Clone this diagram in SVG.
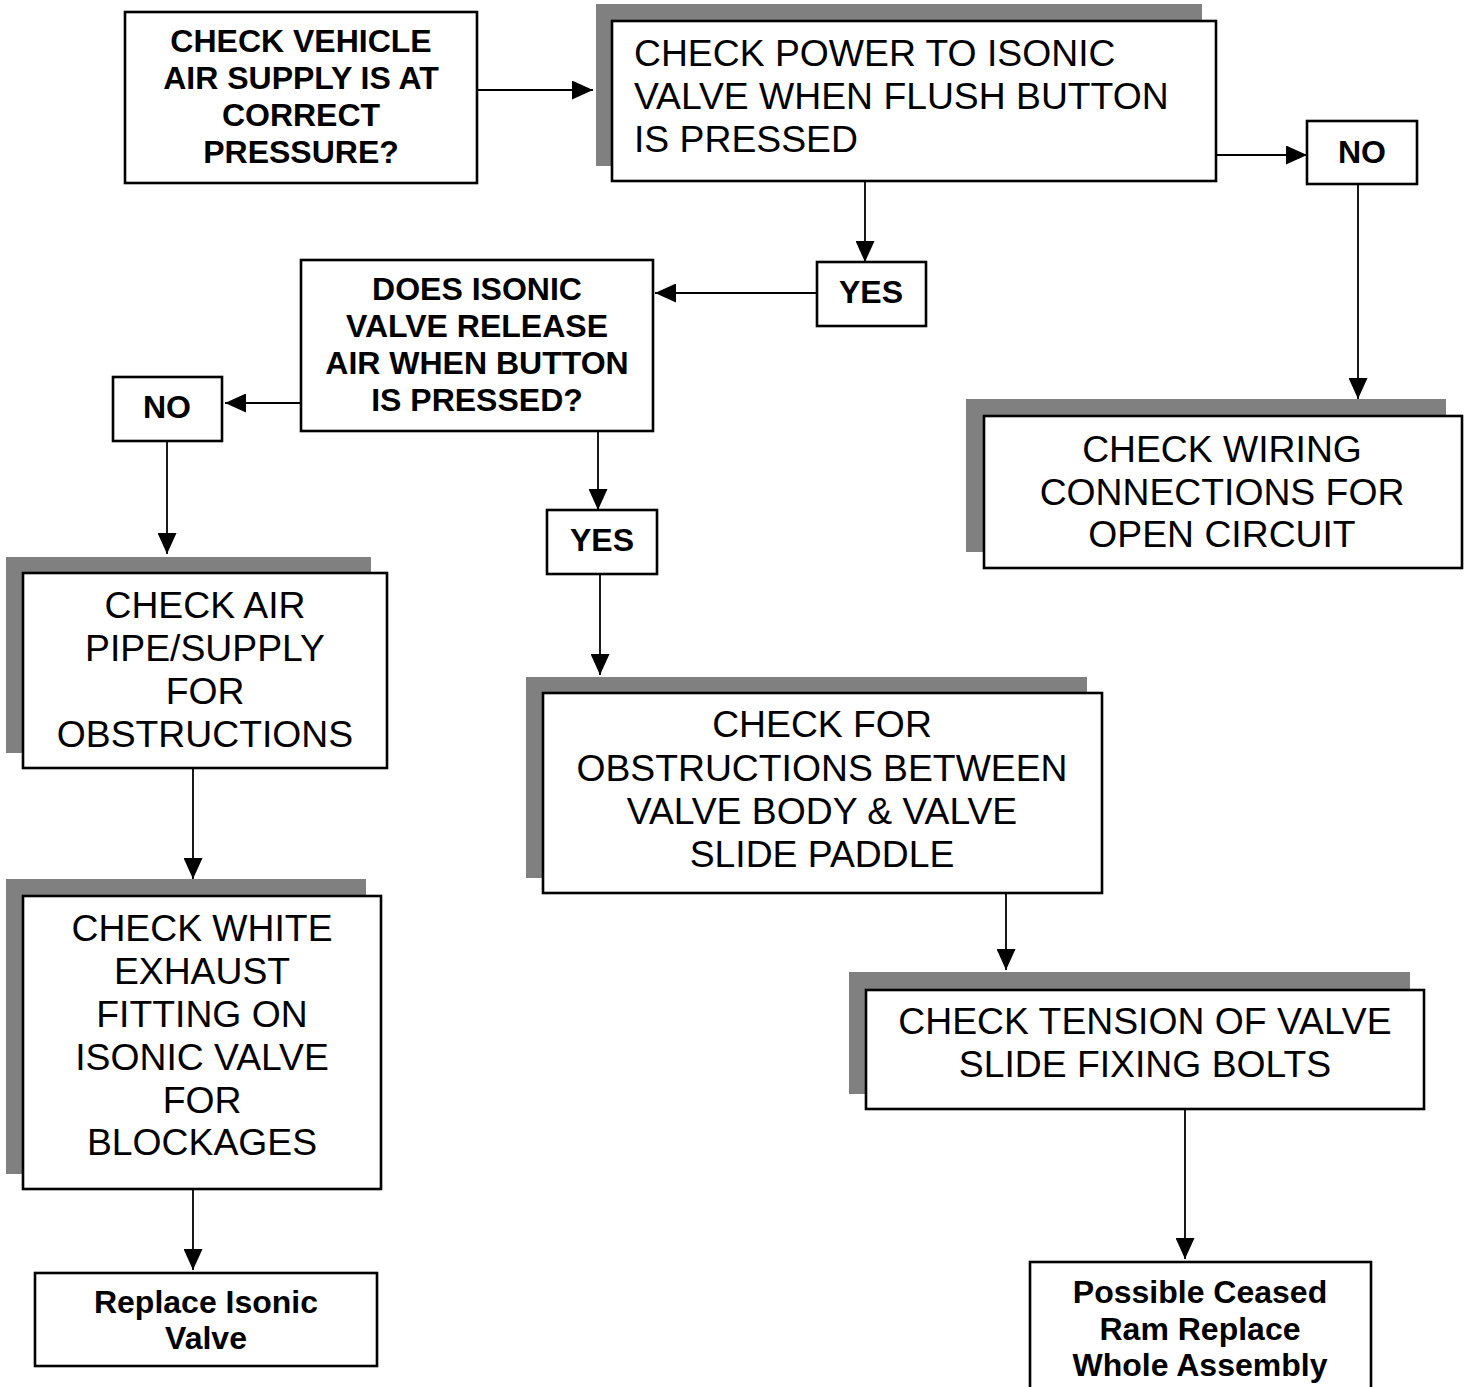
<svg xmlns="http://www.w3.org/2000/svg" width="1472" height="1387" viewBox="0 0 1472 1387">
<defs>
<style>
.box{fill:#fff;stroke:#000;stroke-width:2.6}
.sh{fill:#808080;stroke:none}
.b{font-family:"Liberation Sans",Arial,sans-serif;font-weight:bold;font-size:32px;fill:#000;text-anchor:middle}
.n{font-family:"Liberation Sans",Arial,sans-serif;font-size:37.3px;fill:#000;text-anchor:middle}
.c{stroke:#000;stroke-width:1.8;fill:none;marker-end:url(#ah)}
</style>
<marker id="ah" viewBox="0 0 21 19" refX="21" refY="9.5" markerWidth="21" markerHeight="19" markerUnits="userSpaceOnUse" orient="auto">
<path d="M0,0 L21,9.5 L0,19 Z" fill="#000"/>
</marker>
</defs>
<rect width="1472" height="1387" fill="#fff"/>
<g id="connectors">
<line class="c" x1="477" y1="90" x2="593" y2="90"/>
<line class="c" x1="1216" y1="155" x2="1307" y2="155"/>
<line class="c" x1="1358" y1="184" x2="1358" y2="399"/>
<line class="c" x1="865" y1="181" x2="865" y2="262"/>
<line class="c" x1="817" y1="293" x2="655" y2="293"/>
<line class="c" x1="301" y1="403" x2="225" y2="403"/>
<line class="c" x1="167" y1="441" x2="167" y2="554"/>
<line class="c" x1="598" y1="431" x2="598" y2="510"/>
<line class="c" x1="600" y1="574" x2="600" y2="675"/>
<line class="c" x1="1006" y1="893" x2="1006" y2="970"/>
<line class="c" x1="1185" y1="1109" x2="1185" y2="1259"/>
<line class="c" x1="193" y1="768" x2="193" y2="879"/>
<line class="c" x1="193" y1="1189" x2="193" y2="1270"/>
</g>
<g id="n1">
<rect class="box" x="125" y="12" width="352" height="171"/>
<text class="b" x="301" y="52">CHECK VEHICLE</text>
<text class="b" x="301" y="89">AIR SUPPLY IS AT</text>
<text class="b" x="301" y="126">CORRECT</text>
<text class="b" x="301" y="163">PRESSURE?</text>
</g>
<g id="n2">
<rect class="sh" x="596" y="4" width="606" height="162"/>
<rect class="box" x="612" y="21" width="604" height="160"/>
<text class="n" x="634" y="66" style="text-anchor:start">CHECK POWER TO ISONIC</text>
<text class="n" x="634" y="109" style="text-anchor:start">VALVE WHEN FLUSH BUTTON</text>
<text class="n" x="634" y="152" style="text-anchor:start">IS PRESSED</text>
</g>
<g id="no1">
<rect class="box" x="1307" y="121" width="110" height="63"/>
<text class="b" x="1362" y="163">NO</text>
</g>
<g id="n3">
<rect class="sh" x="966" y="399" width="480" height="153"/>
<rect class="box" x="984" y="416" width="478" height="152"/>
<text class="n" x="1222" y="462">CHECK WIRING</text>
<text class="n" x="1222" y="505">CONNECTIONS FOR</text>
<text class="n" x="1222" y="547">OPEN CIRCUIT</text>
</g>
<g id="yes1">
<rect class="box" x="817" y="262" width="109" height="64"/>
<text class="b" x="871" y="303">YES</text>
</g>
<g id="n4">
<rect class="box" x="301" y="260" width="352" height="171"/>
<text class="b" x="477" y="300">DOES ISONIC</text>
<text class="b" x="477" y="337">VALVE RELEASE</text>
<text class="b" x="477" y="374">AIR WHEN BUTTON</text>
<text class="b" x="477" y="411">IS PRESSED?</text>
</g>
<g id="no2">
<rect class="box" x="113" y="377" width="109" height="64"/>
<text class="b" x="167" y="418">NO</text>
</g>
<g id="n5">
<rect class="sh" x="6" y="557" width="365" height="196"/>
<rect class="box" x="23" y="573" width="364" height="195"/>
<text class="n" x="205" y="618">CHECK AIR</text>
<text class="n" x="205" y="661">PIPE/SUPPLY</text>
<text class="n" x="205" y="704">FOR</text>
<text class="n" x="205" y="747">OBSTRUCTIONS</text>
</g>
<g id="yes2">
<rect class="box" x="547" y="510" width="110" height="64"/>
<text class="b" x="602" y="551">YES</text>
</g>
<g id="n6">
<rect class="sh" x="526" y="677" width="561" height="201"/>
<rect class="box" x="543" y="693" width="559" height="200"/>
<text class="n" x="822" y="737">CHECK FOR</text>
<text class="n" x="822" y="781">OBSTRUCTIONS BETWEEN</text>
<text class="n" x="822" y="824">VALVE BODY &amp; VALVE</text>
<text class="n" x="822" y="867">SLIDE PADDLE</text>
</g>
<g id="n7">
<rect class="sh" x="849" y="972" width="561" height="122"/>
<rect class="box" x="866" y="990" width="558" height="119"/>
<text class="n" x="1145" y="1034">CHECK TENSION OF VALVE</text>
<text class="n" x="1145" y="1077">SLIDE FIXING BOLTS</text>
</g>
<g id="n8">
<rect class="box" x="1030" y="1262" width="341" height="140"/>
<text class="b" x="1200" y="1303">Possible Ceased</text>
<text class="b" x="1200" y="1340">Ram Replace</text>
<text class="b" x="1200" y="1376">Whole Assembly</text>
</g>
<g id="n9">
<rect class="sh" x="6" y="879" width="360" height="295"/>
<rect class="box" x="23" y="896" width="358" height="293"/>
<text class="n" x="202" y="941">CHECK WHITE</text>
<text class="n" x="202" y="984">EXHAUST</text>
<text class="n" x="202" y="1027">FITTING ON</text>
<text class="n" x="202" y="1070">ISONIC VALVE</text>
<text class="n" x="202" y="1113">FOR</text>
<text class="n" x="202" y="1155">BLOCKAGES</text>
</g>
<g id="n10">
<rect class="box" x="35" y="1273" width="342" height="93"/>
<text class="b" x="206" y="1313">Replace Isonic</text>
<text class="b" x="206" y="1349">Valve</text>
</g>
</svg>
